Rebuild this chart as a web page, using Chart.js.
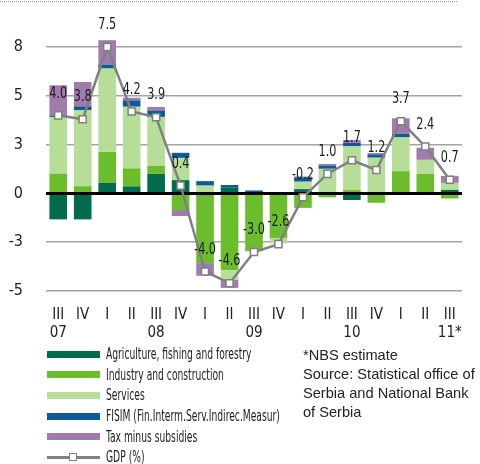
<!DOCTYPE html>
<html>
<head>
<meta charset="utf-8">
<script src="https://cdn.jsdelivr.net/npm/chart.js@4.4.1/dist/chart.umd.min.js"></script>
<style>
  body { margin: 0; background: #fff; }
  #wrap { position: relative; width: 480px; height: 464px; overflow: hidden; }
  #dots { position: absolute; left: 0; top: 1px; width: 457px; border-top: 1px dotted #9a9a9a; }
  #box { position: absolute; left: 0; top: 0; width: 480px; height: 345px; }
  #legend { position: absolute; left: 47px; top: 344px; font-family: 'DejaVu Sans Condensed', 'DejaVu Sans', sans-serif; font-size: 15px; color: #222; }
  .row { height: 20.6px; display: flex; align-items: center; white-space: nowrap; }
  .sw { width: 53px; height: 7px; margin-right: 6px; flex: none; position: relative; }
  .row span { display: inline-block; transform: scaleX(0.68); transform-origin: left center; }
  #notes { position: absolute; left: 303px; top: 346px; font-family: 'Liberation Sans', sans-serif; font-size: 14.6px; line-height: 19px; color: #222; }
</style>
</head>
<body>
<div id="wrap">
  <div id="dots"></div>
  <div id="box"><canvas id="myChart"></canvas></div>
  <div id="legend"></div>
  <div id="notes">*NBS estimate<br>Source: Statistical office of<br>Serbia and National Bank<br>of Serbia</div>
</div>
<script>
// kvartali i godine
var quarters = ['III', 'IV', 'I', 'II', 'III', 'IV', 'I', 'II', 'III', 'IV', 'I', 'II', 'III', 'IV', 'I', 'II', 'III'];
var years = ['07', '', '', '', '08', '', '', '', '09', '', '', '', '10', '', '', '', '11*'];

// doprinosi rastu (p.p.)
var agriculture = [-1.33, -1.33, 0.54, 0.36, 1.0, 0.68, -0.1, 0.29, 0, 0, 0.22, 0, -0.34, 0, 0, 0, 0.18];
var industry = [1.0, 0.37, 1.59, 0.92, 0.41, -0.85, -3.47, -3.93, -2.96, -2.28, -0.74, -0.2, 0.17, -0.48, 1.14, 1.0, -0.26];
var services = [2.92, 3.9, 4.27, 3.16, 2.51, 1.14, 0.4, -0.48, 0, -0.29, 0.38, 1.26, 2.24, 1.83, 1.73, 0.72, 0.36];
var fisim = [0.07, 0.19, 0.2, 0.33, 0.33, 0.26, 0.23, 0.14, 0.15, 0, 0.22, 0.17, 0.18, 0.17, 0.18, 0, 0];
var tax = [1.55, 1.25, 1.25, 0.13, 0.18, -0.31, -0.65, -0.43, 0, 0, 0.05, 0.08, 0.15, 0.07, 0.8, 0.62, 0.36];
var gdp = [4.0, 3.8, 7.5, 4.2, 3.9, 0.4, -4.0, -4.6, -3.0, -2.6, -0.2, 1.0, 1.7, 1.2, 3.7, 2.4, 0.7];

var yTicks = [-5, -2.5, 0, 2.5, 5, 7.5];

var NARROW = "'DejaVu Sans Condensed', 'DejaVu Sans', sans-serif";

var labels = quarters.map(function(q, i) { return [q, years[i]]; });

function bar(label, color, data) {
    return {
        type: 'bar',
        label: label,
        data: data,
        backgroundColor: color,
        borderWidth: 0,
        stack: 's',
        barPercentage: 0.72,
        categoryPercentage: 1.0
    };
}

// nulta linija iznad stubaca, ispod linije BDP
var zeroLine = {
    id: 'zeroLine',
    beforeDatasetDraw: function(chart, args) {
        if (args.index !== 5) return;
        var y = chart.scales.y.getPixelForValue(0);
        var a = chart.chartArea;
        var c = chart.ctx;
        c.save();
        c.strokeStyle = '#000';
        c.lineWidth = 3;
        c.beginPath();
        c.moveTo(a.left, y);
        c.lineTo(a.right, y);
        c.stroke();
        c.restore();
    }
};

// vrednosti BDP iznad tacaka (suzeni tekst)
var gdpLabels = {
    id: 'gdpLabels',
    afterDatasetsDraw: function(chart) {
        var meta = chart.getDatasetMeta(5);
        var c = chart.ctx;
        meta.data.forEach(function(pt, i) {
            c.save();
            c.translate(pt.x, pt.y - 22);
            c.scale(0.78, 1);
            c.font = '16px ' + NARROW;
            c.fillStyle = '#1a1a1a';
            c.textAlign = 'center';
            c.textBaseline = 'middle';
            c.fillText(gdp[i].toFixed(1), 0, 0);
            c.restore();
        });
    }
};

var ctx = document.getElementById('myChart').getContext('2d');

var chart = new Chart(ctx, {
    data: {
        labels: labels,
        datasets: [
            bar('Agriculture, fishing and forestry', '#006b4d', agriculture),
            bar('Industry and construction', '#6cbd2c', industry),
            bar('Services', '#b6de98', services),
            bar('FISIM (Fin.Interm.Serv.Indirec.Measur)', '#0c5a98', fisim),
            bar('Tax minus subsidies', '#a07cad', tax),
            {
                type: 'line',
                label: 'GDP (%)',
                data: gdp,
                order: -1,
                borderColor: '#808080',
                borderWidth: 2.5,
                pointStyle: 'rect',
                pointRadius: 5,
                pointBackgroundColor: '#fff',
                pointBorderColor: '#808080',
                pointBorderWidth: 1.5,
                tension: 0
            }
        ]
    },
    options: {
        responsive: true,
        maintainAspectRatio: false,
        animation: false,
        layout: { padding: { top: 8, right: 18, left: 0, bottom: 0 } },
        plugins: {
            legend: { display: false },
            tooltip: { enabled: false }
        },
        scales: {
            x: {
                stacked: true,
                grid: { display: false, drawTicks: false },
                border: { display: false },
                ticks: {
                    padding: 15,
                    color: '#222',
                    maxRotation: 0,
                    autoSkip: false,
                    font: { family: NARROW, size: 15, lineHeight: '18px' }
                },
                afterFit: function(s) { s.height = 54; }
            },
            y: {
                stacked: true,
                min: -5,
                max: 9.5,
                afterBuildTicks: function(s) {
                    s.ticks = yTicks.map(function(v) { return { value: v }; });
                },
                afterFit: function(s) {
                    s.width = 46;
                    s.paddingTop = 0;
                    s.paddingBottom = 0;
                },
                grid: {
                    drawTicks: false,
                    color: function(c) { return c.tick && c.tick.value === 0 ? 'rgba(0,0,0,0)' : '#a4a4a4'; },
                    lineWidth: 1.5
                },
                border: { display: false },
                ticks: {
                    padding: 23,
                    color: '#222',
                    font: { family: NARROW, size: 16 },
                    callback: function(v) { return Number(v).toFixed(0); }
                }
            }
        }
    },
    plugins: [zeroLine, gdpLabels]
});

// legenda
var leg = document.getElementById('legend');
chart.data.datasets.forEach(function(ds) {
    var row = document.createElement('div');
    row.className = 'row';
    var sw = document.createElement('div');
    sw.className = 'sw';
    if (ds.type === 'bar') {
        sw.style.background = ds.backgroundColor;
    } else {
        sw.style.height = '12px';
        sw.innerHTML = '<div style="position:absolute;left:0;right:0;top:5px;height:2.5px;background:#808080"></div>' +
            '<div style="position:absolute;left:22px;top:2px;width:6px;height:6px;background:#fff;border:1.5px solid #808080"></div>';
    }
    var t = document.createElement('span');
    t.textContent = ds.label;
    row.appendChild(sw);
    row.appendChild(t);
    leg.appendChild(row);
});
</script>
</body>
</html>
